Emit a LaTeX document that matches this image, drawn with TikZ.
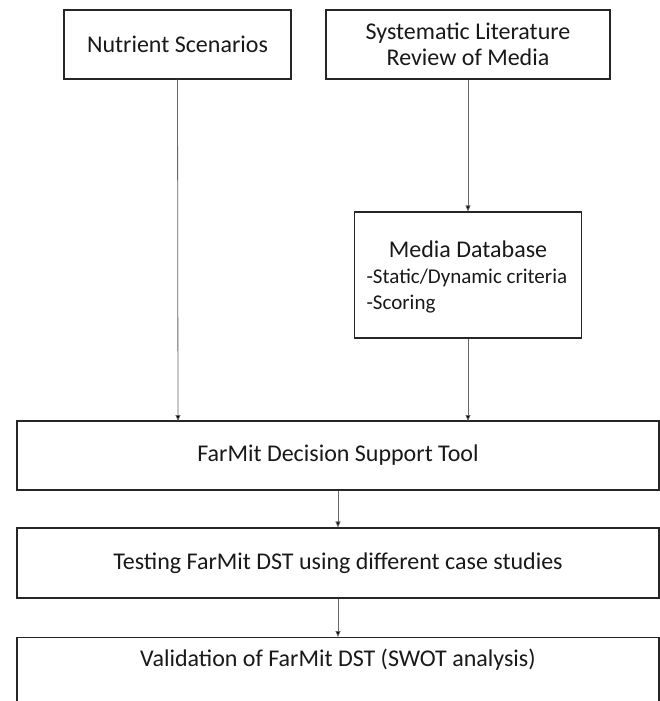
\documentclass[tikz,border=0pt]{standalone}
\usepackage{fontspec}
\setmainfont{Carlito}
\usetikzlibrary{arrows.meta}
\begin{document}
\begin{tikzpicture}[x=1pt,y=-1pt,
  box/.style={draw=black!85,line width=1.1pt,rectangle,inner sep=0pt},
  conn/.style={draw=black!60,line width=0.8pt,-{Triangle[length=6pt,width=5pt,fill=black]}},
  lbl/.style={font=\fontsize{24}{26}\selectfont,text=black!90,align=center},
  sub/.style={font=\fontsize{21}{26}\selectfont,text=black!90,anchor=base west}]
\clip (0,0) rectangle (660,701);
\fill[white] (0,0) rectangle (660,701);
% boxes
\node[box,minimum width=227pt,minimum height=69pt] (nut) at (177.5,44.5) {};
\node[lbl] at (nut.center) {Nutrient Scenarios};
\node[box,minimum width=284pt,minimum height=69pt] (slr) at (468,44.5) {};
\node[lbl] at (slr.center) {Systematic Literature\\Review of Media};
\node[box,minimum width=227pt,minimum height=126pt] (mdb) at (468,275) {};
\node[font=\fontsize{24}{28}\selectfont,text=black!90,anchor=base] (mdbt) at (468,257) {Media Database};
\node[sub] (mdb1) at (363,283) {-Static/Dynamic criteria};
\node[sub] (mdb2) at (363,309) {-Scoring};
\node[box,minimum width=642pt,minimum height=69pt] (dst) at (338,455.5) {};
\node[lbl] at (dst.center) {FarMit Decision Support Tool};
\node[box,minimum width=642pt,minimum height=70pt] (test) at (338,563) {};
\node[lbl] at (test.center) {Testing FarMit DST using different case studies};
\node[box,minimum width=642pt,minimum height=80pt,anchor=north] (val) at (338,637) {};
\node[lbl] at (338,660) {Validation of FarMit DST (SWOT analysis)};
% connectors
\draw[conn] (nut.south) -- (178,421);
\draw[conn] (slr.south) -- (mdb.north);
\draw[conn] (mdb.south) -- (468,421);
\draw[conn] (dst.south) -- (test.north);
\draw[conn] (test.south) -- (val.north);
\end{tikzpicture}
\end{document}
